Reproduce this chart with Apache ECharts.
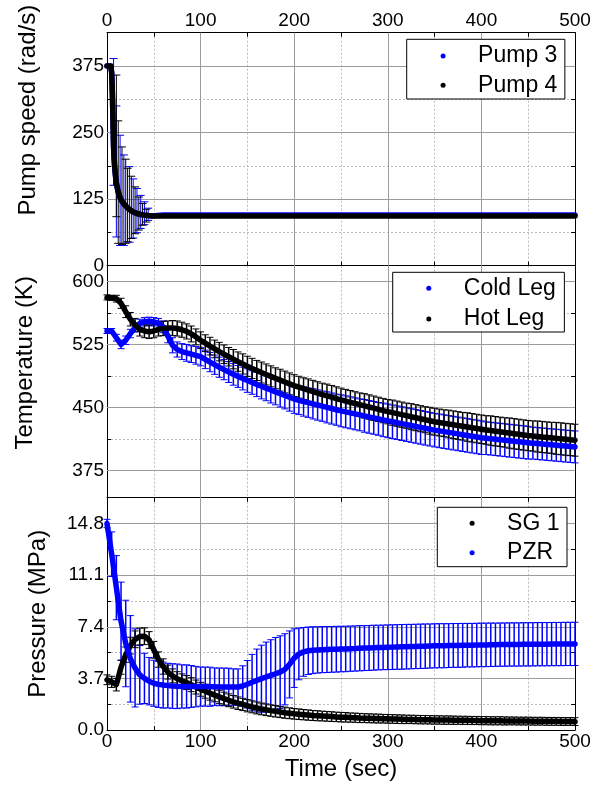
<!DOCTYPE html>
<html><head><meta charset="utf-8">
<script src="https://cdn.jsdelivr.net/npm/echarts@6/dist/echarts.min.js"></script>
<style>html,body{margin:0;padding:0;background:#fff}#c{width:599px;height:787px}</style>
</head><body><div id="c"></div>
<script>
const FONT = '"Liberation Sans", Arial, Helvetica, sans-serif';

// ---- shared x axis ----
const xLabelTicks = [0, 100, 200, 300, 400, 500];
const xMajorLines = [100, 200, 300, 400];

// ---- panel 1: pump speed ----
const speedLabels = [0, 125, 250, 375];
const speedMajorLines = [125, 250, 375];
const pumpTime = [0,2,4,4.5,5,5.5,6,6.5,7,7.5,8,9,10,12,14,16,18,20,22,24,26,28,30,32,34,36,38,40,42,44,46,48,50,60,70,80,90,100,110,120,130,140,150,160,170,180,190,200,210,220,230,240,250,260,270,280,290,300,310,320,330,340,350,360,370,380,390,400,410,420,430,440,450,460,470,480,490,500];
const pump3 = [375,375,375,375,362,339,305,265,225,205,190,170,155,138,128,121,116,112,108.5,105.5,103,101,99.3,98,97,96.2,95.5,95,94.5,94.1,93.8,93.5,94.8,95,95,95,95,95,95,95,95,95,95,95,95,95,95,95,95,95,95,95,95,95,95,95,95,95,95,95,95,95,95,95,95,95,95,95,95,95,95,95,95,95,95,95,95,95];
const pump4 = [375,375,375,375,362,339,305,265,225,205,190,170,155,138,128,121,116,112,108.5,105.5,103,101,99.3,98,97,96.2,95.5,95,94.5,94.1,93.8,93.5,93.5,93.5,93.5,93.5,93.5,93.5,93.5,93.5,93.5,93.5,93.5,93.5,93.5,93.5,93.5,93.5,93.5,93.5,93.5,93.5,93.5,93.5,93.5,93.5,93.5,93.5,93.5,93.5,93.5,93.5,93.5,93.5,93.5,93.5,93.5,93.5,93.5,93.5,93.5,93.5,93.5,93.5,93.5,93.5,93.5,93.5];
const pump3BarTime = [7,10,14,18,24,28,32,36,40,44];
const pump3BarLow  = [151,54,38,38,44,52,62,70,77,85];
const pump3BarHigh = [389,300,245,208,186,163,145,132,120,108];
const pump4BarTime = [10,12,16,20,22,26,30,34,38,42];
const pump4BarLow  = [92,42,40,42,45,51,60,67,76,82];
const pump4BarHigh = [358,272,223,200,183,168,148,129,117,106];

// ---- panels 2 & 3 time base ----
const time = [0,5,10,15,20,25,30,35,40,45,50,55,60,65,70,75,80,85,90,95,100,105,110,115,120,125,130,135,140,145,150,155,160,165,170,175,180,185,190,195,200,205,210,215,220,225,230,235,240,245,250,255,260,265,270,275,280,285,290,295,300,305,310,315,320,325,330,335,340,345,350,355,360,365,370,375,380,385,390,395,400,405,410,415,420,425,430,435,440,445,450,455,460,465,470,475,480,485,490,495,500];

// ---- panel 2: temperature ----
const tempLabels = [375, 450, 525, 600];
const tempMinorTicks = [375, 412.5, 450, 487.5, 525, 562.5, 600, 618.75];
const coldLeg = [541,541,533,525,530,538,545,550,552,552.5,552,550,546,535,524,519,516.5,515,513.5,512,510.5,
507.2,504,500.9,497.9,495,492.2,489.5,486.9,484.4,482,
479.7,477.4,475.2,473,470.8,468.6,466.5,464.3,462.1,460,
458.5,457.1,455.7,454.3,452.9,451.5,450.1,448.7,447.3,446,
444.8,443.6,442.4,441.2,440,438.8,437.6,436.4,435.2,434,
432.9,431.8,430.7,429.6,428.5,427.4,426.3,425.2,424.1,423,
422.1,421.2,420.3,419.4,418.5,417.6,416.7,415.8,414.9,414,
413.4,412.8,412.2,411.6,411,410.4,409.8,409.2,408.6,408,
407.5,407,406.5,406,405.5,405,404.5,404,403.5,403];
const coldLegErr = [3,3,4,5,5,5,5,5,5,5,5,6,7,8,9,9,9.5,10,10,10.5,11,
11,11.5,11.5,12,12,12.5,13,13,13.5,14,
14,14.5,15,15,15.5,15.5,16,16,16.5,17,
17,17.5,17.5,18,18,18,18.5,18.5,18.5,19,
19,19,19,19,19.5,19.5,19.5,19.5,20,20,
20,20,20,20,20,20,20,20,20,20,
20,20,20,20,20,20,20,20,20,20,
19.5,19.5,19.5,19.5,19.5,19.5,19.5,19.5,19.5,19.5,
19,19,19,19,19,19,19,19,19,19];
const hotLeg = [581,580.5,579.5,574,564,555,548,543,541,540,541,543,544,544.5,544.5,544,542.5,540.5,537.5,534,530,
526.5,523,519.7,516.5,513.4,510.4,507.5,504.6,501.8,499,
496.5,494,491.6,489.3,487,484.7,482.5,480.3,478.1,476,
474.1,472.3,470.5,468.8,467.1,465.4,463.8,462.2,460.6,459,
457.5,456.1,454.7,453.3,451.9,450.5,449.1,447.7,446.3,445,
443.8,442.6,441.4,440.2,439,437.8,436.6,435.4,434.2,433,
432.1,431.2,430.3,429.4,428.5,427.6,426.7,425.8,424.9,424,
423.2,422.5,421.7,421,420.2,419.5,418.7,418,417.2,416.5,
416,415.4,414.9,414.3,413.8,413.2,412.7,412.1,411.6,411];
const hotLegErr = [3,3,4,6,7,8,8,8,8,8,8,8,8.5,8.5,9,9,9,9,9.5,9.5,10,
10,10.5,10.5,11,11,11,11.5,11.5,12,12,
12,12,12.5,12.5,12.5,12.5,13,13,13,13,
13,13,13.5,13.5,13.5,13.5,14,14,14,14,
14,14,14,14,14.5,14.5,14.5,14.5,14.5,14.5,
15,15,15,15,15.5,15.5,15.5,15.5,16,16,
16,16,16.5,16.5,16.5,16.5,17,17,17,17,
17,17.5,17.5,17.5,17.5,18,18,18,18,18,
18,18.5,18.5,18.5,18.5,19,19,19,19,19];

// ---- panel 3: pressure ----
const pressLabels = [0, 3.7, 7.4, 11.1, 14.8];
const pressMajorLines = [3.7, 7.4, 11.1, 14.8];
const sg1 = [3.6,3.45,3.25,4.5,5.4,6.05,6.5,6.7,6.72,6.45,5.75,5.05,4.55,4.15,3.88,3.68,3.52,3.4,3.25,3.08,2.92,
2.78,2.64,2.5,2.37,2.25,2.13,2.02,1.92,1.83,1.74,
1.66,1.58,1.51,1.45,1.39,1.34,1.29,1.24,1.2,1.16,
1.13,1.1,1.07,1.04,1.02,1.0,0.98,0.96,0.94,0.92,
0.91,0.89,0.88,0.86,0.85,0.84,0.83,0.82,0.81,0.8,
0.79,0.78,0.77,0.76,0.76,0.75,0.74,0.74,0.73,0.72,
0.72,0.71,0.71,0.7,0.7,0.69,0.69,0.68,0.68,0.67,
0.67,0.66,0.66,0.66,0.65,0.65,0.65,0.64,0.64,0.64,
0.63,0.63,0.63,0.62,0.62,0.62,0.61,0.61,0.61,0.6];
const sg1Err = [0.35,0.4,0.45,0.5,0.55,0.6,0.6,0.6,0.6,0.6,0.6,0.55,0.55,0.5,0.5,0.5,0.5,0.5,0.5,0.5,0.5,
0.5,0.5,0.48,0.48,0.46,0.46,0.45,0.45,0.44,0.44,
0.43,0.43,0.42,0.42,0.41,0.41,0.4,0.4,0.39,0.38,
0.38,0.37,0.37,0.36,0.36,0.35,0.35,0.35,0.34,0.34,
0.34,0.33,0.33,0.33,0.32,0.32,0.32,0.32,0.31,0.31,
0.31,0.31,0.31,0.3,0.3,0.3,0.3,0.3,0.3,0.3,
0.3,0.3,0.3,0.3,0.29,0.29,0.29,0.29,0.29,0.29,
0.29,0.29,0.29,0.29,0.29,0.28,0.28,0.28,0.28,0.28,
0.28,0.28,0.28,0.28,0.28,0.28,0.28,0.28,0.28,0.28];
const pzr = [14.8,12.6,10.2,7.8,6.2,5.1,4.45,3.95,3.7,3.5,3.35,3.27,3.22,3.18,3.15,3.13,3.12,3.12,3.12,3.11,3.11,
3.11,3.1,3.1,3.09,3.09,3.08,3.08,3.08,3.15,3.28,
3.42,3.55,3.68,3.8,3.92,4.03,4.15,4.35,4.7,5.15,
5.45,5.6,5.68,5.72,5.74,5.76,5.77,5.78,5.79,5.8,
5.81,5.83,5.84,5.86,5.87,5.88,5.9,5.91,5.92,5.93,
5.94,5.95,5.96,5.97,5.98,5.99,6.0,6.01,6.02,6.03,
6.04,6.04,6.05,6.06,6.06,6.07,6.08,6.08,6.09,6.1,
6.1,6.11,6.11,6.12,6.12,6.13,6.13,6.13,6.14,6.14,
6.14,6.15,6.15,6.15,6.16,6.16,6.16,6.17,6.17,6.17];
const pzrErr = [0.3,1.6,2.3,2.8,3.1,3.1,2.8,2.1,1.8,1.7,1.65,1.65,1.65,1.6,1.6,1.6,1.55,1.55,1.5,1.45,1.4,
1.4,1.4,1.35,1.35,1.35,1.35,1.3,1.3,1.45,1.7,
2.0,2.25,2.4,2.5,2.55,2.6,2.6,2.55,2.4,2.1,
1.85,1.75,1.7,1.68,1.66,1.65,1.65,1.64,1.64,1.63,
1.63,1.62,1.62,1.62,1.61,1.61,1.61,1.6,1.6,1.6,
1.6,1.6,1.6,1.6,1.59,1.59,1.59,1.59,1.58,1.58,
1.58,1.58,1.57,1.57,1.57,1.57,1.56,1.56,1.56,1.56,
1.56,1.56,1.55,1.55,1.55,1.55,1.55,1.55,1.55,1.55,
1.55,1.55,1.55,1.55,1.55,1.55,1.55,1.55,1.55,1.55];

// ---- helpers ----
const BLUE = '#0000ff', BLACK = '#000000';
const linePts = (ts, vs) => ts.map((t, i) => [t, vs[i]]);
const errPts = (ts, vs, es) => ts.map((t, i) => [t, vs[i] - es[i], vs[i] + es[i]]);
const rangePts = (ts, lo, hi) => ts.map((t, i) => [t, lo[i], hi[i]]);
const near = (arr, v) => arr.some(a => Math.abs(a - v) < 1e-6);

const axisFont = { fontFamily: FONT, fontSize: 19, color: '#000' };
const dottedSplit = { show: true, lineStyle: { color: '#bdbdbd', type: [2, 2], width: 1 } };
const blackLine = { color: '#000', width: 1 };

function errRender(color, cap, stemWidth) {
  return function (params, api) {
    const x = api.value(0), lo = api.value(1), hi = api.value(2);
    const p1 = api.coord([x, lo]), p2 = api.coord([x, hi]);
    const capStyle = { stroke: color, lineWidth: 1, fill: null };
    const stemStyle = { stroke: color, lineWidth: stemWidth, fill: null };
    return { type: 'group', children: [
      { type: 'line', shape: { x1: p1[0], y1: p1[1], x2: p2[0], y2: p2[1] }, style: stemStyle },
      { type: 'line', shape: { x1: p1[0] - cap, y1: p1[1], x2: p1[0] + cap, y2: p1[1] }, style: capStyle },
      { type: 'line', shape: { x1: p2[0] - cap, y1: p2[1], x2: p2[0] + cap, y2: p2[1] }, style: capStyle }
    ]};
  };
}
function errSeries(gi, data, color, cap, stemWidth) {
  return { type: 'custom', xAxisIndex: gi * 2, yAxisIndex: gi * 2, data, encode: { x: 0, y: [1, 2] },
    renderItem: errRender(color, cap, stemWidth), silent: true, z: 2, animation: false };
}
function lineSeries(name, gi, data, color) {
  return { type: 'line', name, xAxisIndex: gi * 2, yAxisIndex: gi * 2, data, showSymbol: false,
    symbol: 'circle', symbolSize: 6, itemStyle: { color },
    lineStyle: { color, width: 5.5, cap: 'round', join: 'round' },
    emphasis: { disabled: true }, silent: true, z: 3, animation: false };
}
function gridLineSeries(gi, yVals) {
  return { type: 'line', xAxisIndex: gi * 2, yAxisIndex: gi * 2, data: [], silent: true, z: 1,
    markLine: { silent: true, symbol: ['none', 'none'], z: 1, animation: false, label: { show: false },
      lineStyle: { color: '#9c9c9c', type: 'solid', width: 1 }, emphasis: { disabled: true },
      data: xMajorLines.map(v => ({ xAxis: v })).concat(yVals.map(v => ({ yAxis: v }))) } };
}

function xPair(gi, mainPos, showLabels, mainLine, secLine, name) {
  const main = { type: 'value', gridIndex: gi, min: 0, max: 500, interval: 50, position: mainPos,
    axisLine: { show: mainLine, onZero: false, lineStyle: blackLine },
    axisTick: { show: mainLine, inside: true, length: 4, lineStyle: blackLine },
    axisLabel: { show: showLabels, margin: 2, ...axisFont, formatter: v => near(xLabelTicks, v) ? String(v) : '' },
    splitLine: dottedSplit };
  if (name) {
    Object.assign(main, { name, nameLocation: 'middle', nameGap: 27,
      nameTextStyle: { fontFamily: FONT, fontSize: 24, color: '#000' } });
  }
  const sec = { type: 'value', gridIndex: gi, min: 0, max: 500, interval: 50,
    position: mainPos === 'top' ? 'bottom' : 'top', show: secLine,
    axisLine: { show: secLine, onZero: false, lineStyle: blackLine },
    axisTick: { show: secLine, inside: true, length: 4, lineStyle: blackLine },
    axisLabel: { show: false }, splitLine: { show: false } };
  return [main, sec];
}
function yPair(gi, min, max, interval, fmt, name, nameGap, namePadLeft, tickVals) {
  const tick = { show: true, inside: true, length: 4, lineStyle: blackLine };
  if (tickVals) tick.customValues = tickVals;
  const main = { type: 'value', gridIndex: gi, min, max, interval, position: 'left',
    axisLine: { show: true, onZero: false, lineStyle: blackLine },
    axisTick: tick,
    axisLabel: { margin: 3, ...axisFont, formatter: fmt },
    splitLine: Object.assign({}, dottedSplit, { showMinLine: false, showMaxLine: false }),
    name, nameLocation: 'middle', nameGap,
    nameTextStyle: { fontFamily: FONT, fontSize: 24, color: '#000', padding: [0, 0, 0, namePadLeft] } };
  const sec = { type: 'value', gridIndex: gi, min, max, interval, position: 'right',
    axisLine: { show: true, onZero: false, lineStyle: blackLine },
    axisTick: Object.assign({}, tick),
    axisLabel: { show: false }, splitLine: { show: false } };
  return [main, sec];
}

const legendCommon = { orient: 'vertical', icon: 'circle', itemWidth: 60, itemHeight: 5,
  borderColor: '#000', borderWidth: 1, backgroundColor: '#fff', selectedMode: false, z: 10,
  textStyle: { fontFamily: FONT, fontSize: 23, color: '#000', lineHeight: 26 } };

const option = {
  animation: false,
  backgroundColor: '#fff',
  grid: [
    { left: 107, top: 32.7, width: 468, height: 233, containLabel: false, outerBoundsMode: 'none' },
    { left: 107, top: 265.7, width: 468, height: 236.25, containLabel: false, outerBoundsMode: 'none' },
    { left: 107, top: 497.7, width: 468, height: 232.3, containLabel: false, outerBoundsMode: 'none' }
  ],
  xAxis: [
    ...xPair(0, 'top', true, true, true),
    ...xPair(1, 'bottom', false, false, false),
    ...xPair(2, 'bottom', true, true, true, 'Time (sec)')
  ],
  yAxis: [
    ...yPair(0, 0, 437.5, 62.5, v => near(speedLabels, v) ? String(v) : '', 'Pump speed (rad/s)', 67, 78),
    ...yPair(1, 337.5, 618.75, 37.5, v => near(tempLabels, v) ? String(v) : '', 'Temperature (K)', 70, 42, tempMinorTicks),
    ...yPair(2, 0, 16.65, 1.85, v => near(pressLabels, v) ? v.toFixed(1) : '', 'Pressure (MPa)', 57, 0)
  ],
  legend: [
    Object.assign({}, legendCommon, { data: ['Pump 3', 'Pump 4'], left: 406.7, top: 39.3, itemGap: 3.3, padding: [3.7, 7.5, 0.7, 33.9] }),
    Object.assign({}, legendCommon, { data: ['Cold Leg', 'Hot Leg'], left: 392.7, top: 272.3, itemGap: 4.7, padding: [3, 8.5, 0, 33.6] }),
    Object.assign({}, legendCommon, { data: ['SG 1', 'PZR'], left: 437.3, top: 507.3, itemGap: 3.4, padding: [3, 7.5, 1, 32.3] })
  ],
  series: [
    gridLineSeries(0, speedMajorLines),
    gridLineSeries(1, tempLabels),
    gridLineSeries(2, pressMajorLines),
    // panel 1
    errSeries(0, rangePts(pump3BarTime, pump3BarLow, pump3BarHigh), BLUE, 4, 1),
    errSeries(0, rangePts(pump4BarTime, pump4BarLow, pump4BarHigh), BLACK, 4, 1),
    lineSeries('Pump 3', 0, linePts(pumpTime, pump3), BLUE),
    lineSeries('Pump 4', 0, linePts(pumpTime, pump4), BLACK),
    // panel 2
    errSeries(1, errPts(time, coldLeg, coldLegErr), BLUE, 3.5, 1.5),
    errSeries(1, errPts(time, hotLeg, hotLegErr), BLACK, 3.5, 1.5),
    lineSeries('Cold Leg', 1, linePts(time, coldLeg), BLUE),
    lineSeries('Hot Leg', 1, linePts(time, hotLeg), BLACK),
    // panel 3
    errSeries(2, errPts(time, pzr, pzrErr), BLUE, 3.5, 1.5),
    errSeries(2, errPts(time, sg1, sg1Err), BLACK, 3.5, 1.5),
    lineSeries('SG 1', 2, linePts(time, sg1), BLACK),
    lineSeries('PZR', 2, linePts(time, pzr), BLUE)
  ]
};

const chart = echarts.init(document.getElementById('c'), null, { renderer: 'canvas', width: 599, height: 787 });
chart.setOption(option);
</script>
</body></html>
